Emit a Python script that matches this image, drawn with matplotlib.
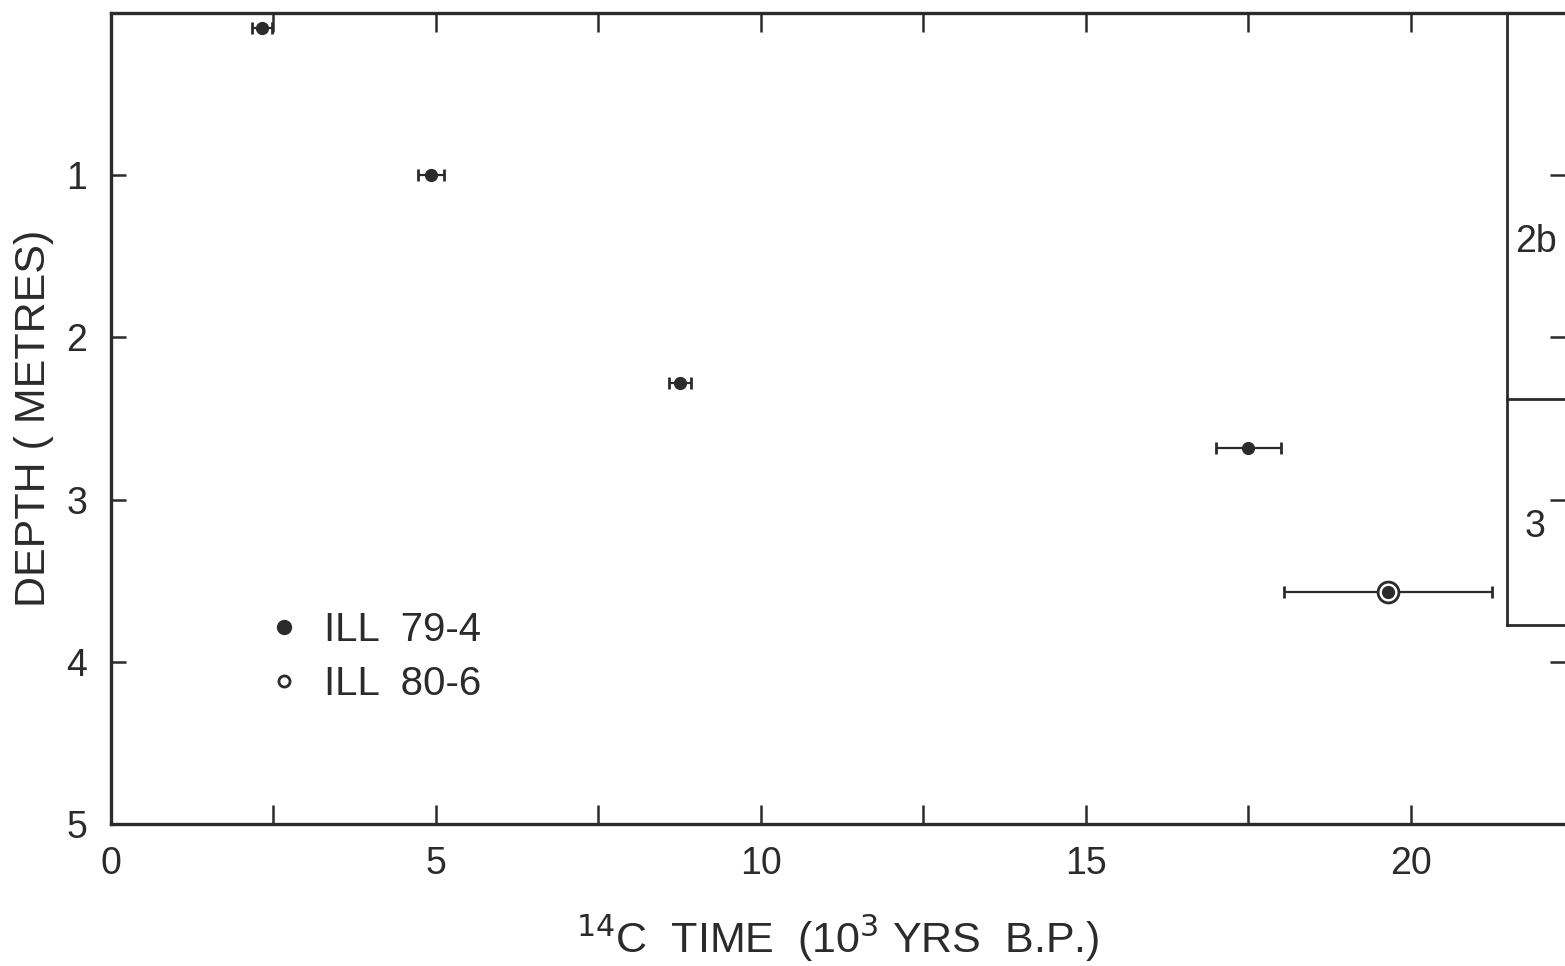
#!/usr/bin/env python3

import numpy as np
import matplotlib
matplotlib.use("Agg")
import matplotlib.pyplot as plt
from matplotlib.lines import Line2D

# radiocarbon ages (10^3 yrs B.P.) vs depth (m)
ill79_age = [2.32, 4.92, 8.75, 17.5]
ill79_depth = [0.09, 1.0, 2.28, 2.68]
ill79_err = [0.15, 0.2, 0.17, 0.5]

ill80_age = [19.65]
ill80_depth = [3.57]
ill80_err = [1.6]

# stratigraphic units drawn at the right
zone_age = 21.48
zone_bounds = [2.38, 3.77]
zone_labels = ["2b", "3"]
zone_label_depth = [1.41, 3.17]
zone_label_age = [21.6, 21.75]

ink = "#2b2b2b"
plt.rcParams["font.family"] = ["Liberation Sans", "DejaVu Sans"]
plt.rcParams.update({"font.size": 22})

fig = plt.figure(figsize=(15.65, 9.66), dpi=100)
ax = fig.add_axes([0.0709, 0.147, 0.9291, 0.8395])

eb_args = {
    "fmt": "none",
    "ecolor": ink,
    "elinewidth": 1.6,
    "capsize": 4,
    "capthick": 2,
}

ax.errorbar(ill79_age, ill79_depth, xerr=ill79_err, **eb_args)
ax.plot(ill79_age, ill79_depth, "o", color=ink, markersize=8.5, zorder=3)

ax.errorbar(ill80_age, ill80_depth, xerr=ill80_err, **eb_args)
ax.plot(ill80_age, ill80_depth, "o", color=ink, markersize=8.5, zorder=3)
ax.plot(ill80_age, ill80_depth, "o", mfc="white", mec=ink, mew=2,
        markersize=15, zorder=2)

# unit boxes
ax.axvline(zone_age, ymin=1 - zone_bounds[1] / 5, ymax=1, color=ink, lw=2)
for b in zone_bounds:
    ax.axhline(b, xmin=(zone_age - 0) / 22.37, xmax=1, color=ink, lw=2)
for lab, xa, d in zip(zone_labels, zone_label_age, zone_label_depth):
    ax.text(xa, d, lab, ha="left", va="center", fontsize=27, color=ink)

ax.set_xlim(0, 22.37)
ax.set_ylim(5, 0)

ax.set_xticks([0, 5, 10, 15, 20])
ax.set_xticks(np.arange(2.5, 22.5, 5), minor=True)
ax.set_yticks([1, 2, 3, 4, 5])

ax.tick_params(axis="x", which="both", direction="in", top=True,
               length=14, width=1.8, pad=16, colors=ink, labelsize=27)
ax.tick_params(axis="y", which="major", direction="in", right=True,
               length=11, width=1.8, pad=17, colors=ink, labelsize=27)

for side in ["left", "top", "bottom"]:
    ax.spines[side].set_linewidth(2.4)
    ax.spines[side].set_color(ink)
ax.spines["right"].set_visible(False)

ax.set_xlabel("$^{14}$C  TIME  (10$^{3}$ YRS  B.P.)", fontsize=31,
              labelpad=22, color=ink)
ax.set_ylabel("DEPTH ( METRES)", fontsize=31, labelpad=9, color=ink)

handles = [
    Line2D([], [], ls="none", marker="o", color=ink, markersize=10),
    Line2D([], [], ls="none", marker="o", mfc="white", mec=ink, mew=2,
           markersize=8),
]
ax.legend(handles, ["ILL  79-4", "ILL  80-6"], loc="upper left",
          bbox_to_anchor=(0.08, 0.307), frameon=False, fontsize=29,
          handletextpad=0.5, labelspacing=0.4, handlelength=1.0,
          labelcolor=ink)

plt.savefig("out.png", dpi=100)
